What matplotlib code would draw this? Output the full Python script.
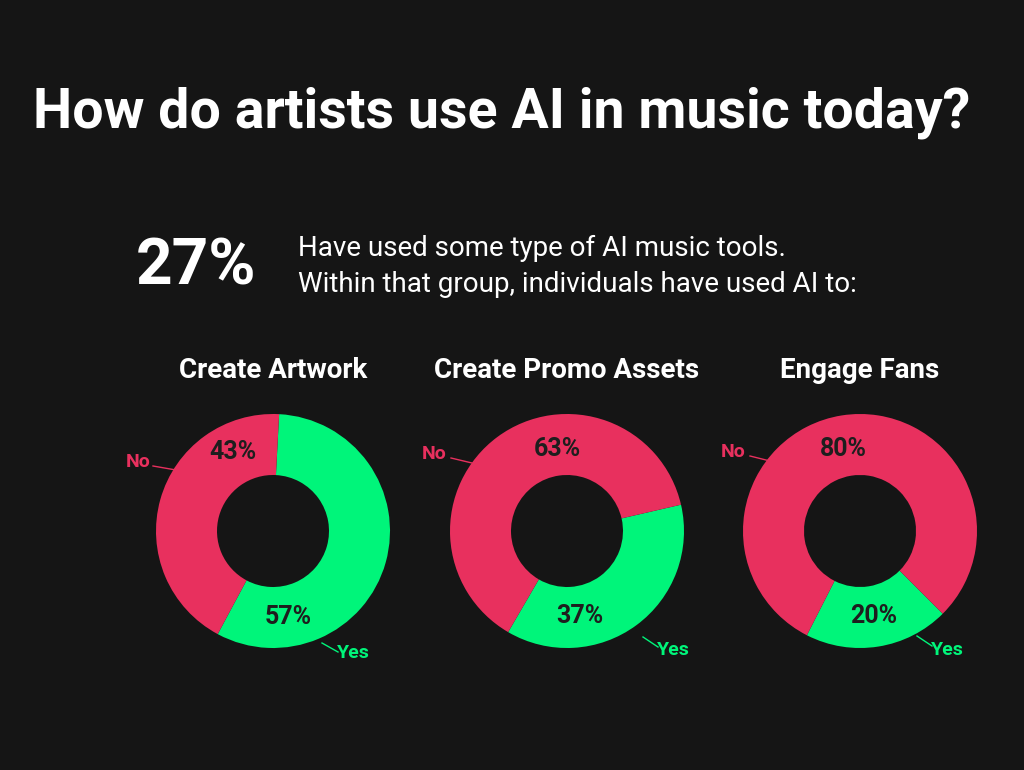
import matplotlib
matplotlib.use("Agg")
import matplotlib.pyplot as plt

titles = ["Create Artwork", "Create Promo Assets", "Engage Fans"]
yes_vals = [57, 37, 20]
no_vals = [43, 63, 80]
start_angles = [87, 13, -45]

BG = "#151515"
RED = "#E8305E"
GREEN = "#00F57A"
DARK = "#1E1E1E"
H = 770

fig = plt.figure(figsize=(10.24, 7.7), dpi=100, facecolor=BG)
ax = fig.add_axes([0, 0, 1, 1])
ax.set_xlim(0, 1024); ax.set_ylim(0, H); ax.axis("off"); ax.set_facecolor(BG)

def T(x, y, s, **kw):
    kw.setdefault("family", "Roboto")
    ax.text(x, H - y, s, **kw)

T(33, 113, "How do artists use AI in music today?", color="white", fontsize=40, fontweight="bold", va="center")
T(136, 267, "27%", color="white", fontsize=46, fontweight="bold", va="center")
T(298, 248, "Have used some type of AI music tools.", color="white", fontsize=20, va="center")
T(298, 284, "Within that group, individuals have used AI to:", color="white", fontsize=20, va="center")

centers = [273, 567, 860]
cy = 531
R, r_in = 117, 56
pct_yes = [(288, 617), (580, 616), (874, 616)]
pct_no = [(233, 452), (557, 449), (843, 449)]
no_lbl = [(138, 462), (434, 454), (733, 452)]
no_line = [((153, 466), (176, 470)), ((451, 458), (472, 463)), ((750, 456), (770, 461))]
yes_lbl = [(353, 653), (673, 650), (947, 650)]
yes_line = [((322, 643), (338, 652)), ((643, 637), (658, 647)), ((917, 636), (932, 646))]

for i, cx in enumerate(centers):
    ax.pie([yes_vals[i], no_vals[i]], colors=[GREEN, RED], startangle=start_angles[i],
           counterclock=False, center=(cx, H - cy), radius=R,
           wedgeprops=dict(width=R - r_in, edgecolor="none"), frame=True)
    T(cx, 370, titles[i], color="white", fontsize=20, fontweight="bold", ha="center", va="center")
    T(*pct_yes[i], f"{yes_vals[i]}%", color=DARK, fontsize=18, fontweight="bold", ha="center", va="center")
    T(*pct_no[i], f"{no_vals[i]}%", color=DARK, fontsize=18, fontweight="bold", ha="center", va="center")
    T(*no_lbl[i], "No", color=RED, fontsize=14, fontweight="bold", ha="center", va="center")
    T(*yes_lbl[i], "Yes", color=GREEN, fontsize=14, fontweight="bold", ha="center", va="center")
    (a, b) = no_line[i]
    ax.plot([a[0], b[0]], [H - a[1], H - b[1]], color=RED, lw=1)
    (a, b) = yes_line[i]
    ax.plot([a[0], b[0]], [H - a[1], H - b[1]], color=GREEN, lw=1)

ax.set_xlim(0, 1024); ax.set_ylim(0, H); ax.set_aspect("auto"); ax.axis("off")
fig.savefig("out.png", dpi=100, facecolor=BG)
